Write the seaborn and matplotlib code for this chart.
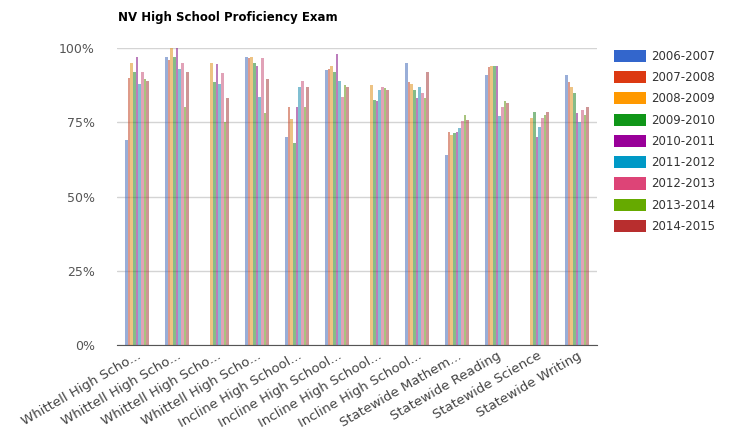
import numpy as np
import pandas as pd
import matplotlib
matplotlib.use("Agg")
import matplotlib.pyplot as plt
from matplotlib.patches import Patch
import seaborn as sns

title = "NV High School Proficiency Exam"

categories = [
    "Whittell High Scho...", "Whittell High Scho...", "Whittell High Scho...",
    "Whittell High Scho...", "Incline High School...", "Incline High School...",
    "Incline High School...", "Incline High School...", "Statewide Mathem...",
    "Statewide Reading", "Statewide Science", "Statewide Writing",
]

years = ["2006-2007", "2007-2008", "2008-2009", "2009-2010", "2010-2011",
         "2011-2012", "2012-2013", "2013-2014", "2014-2015"]

nan = np.nan
# percent proficient, one list per school year (one value per category)
y2006_07 = [69, 97, nan, 97, 70, 92.6, nan, 95, 64, 91, nan, 91]
y2007_08 = [90, 96, nan, 96.5, 80, 93, nan, 88.5, 71.7, 93.6, nan, 88.5]
y2008_09 = [95, 100, 95, 97, 76, 94, 87.5, 88, 70.7, 94, 76.4, 87]
y2009_10 = [92, 97, 88.5, 95, 68, 92, 82.5, 86, 71.4, 94, 78.5, 85]
y2010_11 = [97, 100, 94.6, 94, 80, 98, 82, 83, 71.7, 94, 70, 78]
y2011_12 = [88, 93, 88, 83.5, 87, 89, 86, 87, 73, 77, 73.4, 75]
y2012_13 = [92, 95, 91.5, 96.6, 89, 83.5, 87, 85, 75.5, 80, 76.4, 79]
y2013_14 = [89.5, 80, 75, 78, 80, 87.5, 86.5, 83, 77.4, 82, 77.4, 77.4]
y2014_15 = [89, 92, 83, 89.5, 87, 87, 86, 92, 75.7, 81.5, 78.5, 80]

series = [y2006_07, y2007_08, y2008_09, y2009_10, y2010_11,
          y2011_12, y2012_13, y2013_14, y2014_15]

colors = ["#3366cc", "#dc3912", "#ff9900", "#109618", "#990099",
          "#0099c6", "#dd4477", "#66aa00", "#b82e2e"]

slots = list(range(len(categories)))
rows = []
for yr, vals in zip(years, series):
    for i, v in zip(slots, vals):
        rows.append({"slot": i, "year": yr, "value": v})
df = pd.DataFrame(rows)

sns.set_style("white")
fig = plt.figure(figsize=(7.32, 4.33), dpi=100)
ax = fig.add_axes([117 / 732, 1 - 345 / 433, (597 - 117) / 732, (345 - 48) / 433])

sns.barplot(data=df, x="slot", y="value", hue="year", hue_order=years,
            order=slots, palette=colors, width=0.6, dodge=True,
            errorbar=None, alpha=0.55, linewidth=0, legend=False, ax=ax)

ax.set_ylim(0, 100)
ax.set_xlim(-0.5, len(categories) - 0.5)
ax.set_yticks([0, 25, 50, 75, 100])
ax.set_yticklabels(["0%", "25%", "50%", "75%", "100%"], color="#555555", fontsize=9)
ax.yaxis.grid(True, color="#d4d4d4", linewidth=1)
ax.set_axisbelow(True)
for s in ["top", "right", "left"]:
    ax.spines[s].set_visible(False)
ax.spines["bottom"].set_color("#555555")
ax.tick_params(axis="both", length=0)
ax.tick_params(axis="y", pad=16)
ax.tick_params(axis="x", pad=3)
ax.set_xlabel("")
ax.set_ylabel("")
ax.set_xticks(slots)
ax.set_xticklabels(categories, rotation=30, ha="right", rotation_mode="anchor",
                   fontsize=9.5, color="#444444")

fig.text(118 / 732, 1 - 17 / 433, title, fontsize=8.5, fontweight="bold",
         color="#000000", va="center", ha="left")

handles = [Patch(facecolor=c, edgecolor="none") for c in colors]
fig.legend(handles, years, loc="upper left", bbox_to_anchor=(603 / 732, 1 - 39 / 433),
           frameon=False, fontsize=8.5, handlelength=2.7, handleheight=1.2,
           labelspacing=0.70, handletextpad=0.5, labelcolor="#333333")

fig.savefig("out.png", dpi=100)
